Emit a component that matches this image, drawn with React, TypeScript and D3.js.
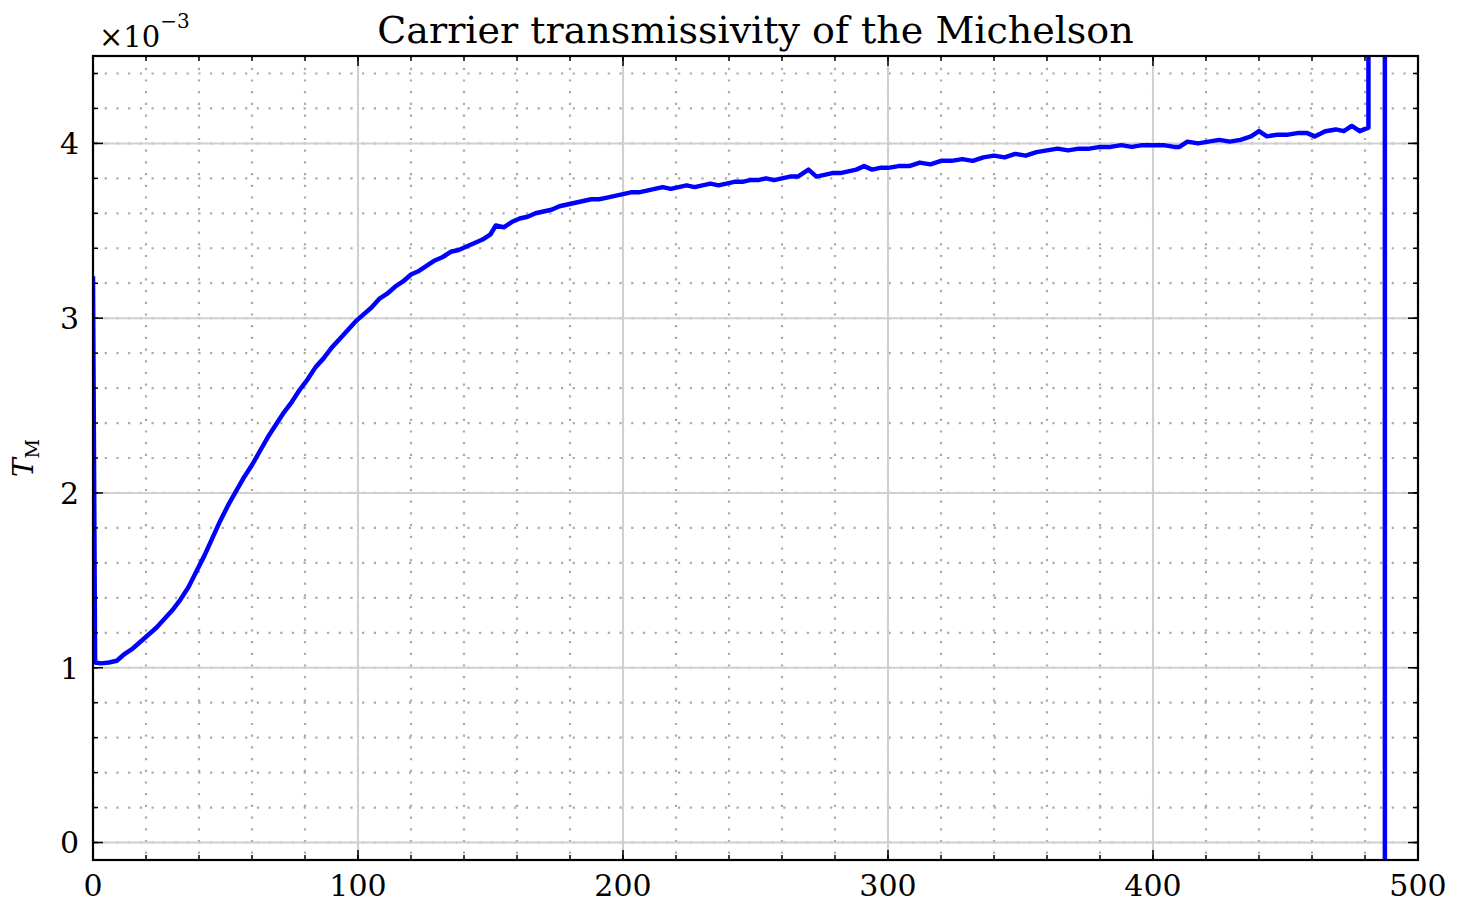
import React from "react";
import * as d3 from "d3";

// carrier transmissivity, values in units of 1e-3
const detuning: number[] = [
  0, 0.8, 3, 6, 9, 12, 15, 18, 21, 24, 27, 30, 33, 36, 39, 42, 45, 48, 51, 54,
  57, 60, 63, 66, 69, 72, 75, 78, 81, 84, 87, 90, 93, 96, 99, 102, 105, 108, 111, 114,
  117, 120, 123, 126, 129, 132, 135, 138, 141, 144, 147, 150, 152, 155, 158, 161, 164, 167, 170, 173,
  176, 179, 182, 185, 188, 191, 194, 197, 200, 203, 206, 209, 212, 215, 218, 221, 224, 227, 230, 233,
  236, 239, 242, 245, 248, 251, 254, 257, 260, 263, 266, 270, 273, 276, 279, 282, 285, 288, 291, 294,
  297, 300, 304, 308, 312, 316, 320, 324, 328, 332, 336, 340, 344, 348, 352, 356, 360, 364, 368, 372,
  376, 380, 384, 388, 392, 396, 400, 404, 408, 410, 413, 417, 421, 425, 429, 433, 437, 440, 443, 447,
  451, 455, 458, 461, 465, 469, 472, 475, 478, 481.3, 481.7, 487.4, 487.6,
];
const transmissivity: number[] = [
  3.24, 1.03, 1.025, 1.03, 1.04, 1.08, 1.11, 1.15, 1.19, 1.23, 1.28, 1.33, 1.39, 1.46, 1.55, 1.64, 1.74, 1.84, 1.93, 2.01,
  2.09, 2.16, 2.24, 2.32, 2.39, 2.46, 2.52, 2.59, 2.65, 2.72, 2.77, 2.83, 2.88, 2.93, 2.98, 3.02, 3.06, 3.11, 3.14, 3.18,
  3.21, 3.25, 3.27, 3.3, 3.33, 3.35, 3.38, 3.39, 3.41, 3.43, 3.45, 3.48, 3.53, 3.52, 3.55, 3.57, 3.58, 3.6, 3.61, 3.62,
  3.64, 3.65, 3.66, 3.67, 3.68, 3.68, 3.69, 3.7, 3.71, 3.72, 3.72, 3.73, 3.74, 3.75, 3.74, 3.75, 3.76, 3.75, 3.76, 3.77,
  3.76, 3.77, 3.78, 3.78, 3.79, 3.79, 3.8, 3.79, 3.8, 3.81, 3.81, 3.85, 3.81, 3.82, 3.83, 3.83, 3.84, 3.85, 3.87, 3.85,
  3.86, 3.86, 3.87, 3.87, 3.89, 3.88, 3.9, 3.9, 3.91, 3.9, 3.92, 3.93, 3.92, 3.94, 3.93, 3.95, 3.96, 3.97, 3.96, 3.97,
  3.97, 3.98, 3.98, 3.99, 3.98, 3.99, 3.99, 3.99, 3.98, 3.98, 4.01, 4.0, 4.01, 4.02, 4.01, 4.02, 4.04, 4.07, 4.04, 4.05,
  4.05, 4.06, 4.06, 4.04, 4.07, 4.08, 4.07, 4.1, 4.07, 4.09, 60, 60, -60,
];

const xMajor = [0, 100, 200, 300, 400, 500];
const yMajor = [0, 1, 2, 3, 4];
const xMinor = d3.range(0, 501, 20);
const yMinor = d3.range(0, 4.5, 0.2);

const W = 1461;
const H = 903;
const margin = { top: 56, right: 43, bottom: 43, left: 93 };
const font = "'DejaVu Serif', serif";

const App: React.FC = () => {
  const x = d3.scaleLinear().domain([0, 500]).range([margin.left, W - margin.right]);
  const y = d3.scaleLinear().domain([-0.1, 4.5]).range([H - margin.bottom, margin.top]);
  const [x0, x1] = x.range();
  const [y0, y1] = y.range();

  const pts = detuning.map((d, i) => [d, transmissivity[i]] as [number, number]);
  const line = d3.line<[number, number]>().x(d => x(d[0])).y(d => y(d[1]));

  return (
    <svg width={W} height={H} style={{ position: "absolute", left: 0, top: 0, background: "#fff" }}>
      <defs>
        <clipPath id="plot">
          <rect x={x0} y={y1} width={x1 - x0} height={y0 - y1} />
        </clipPath>
      </defs>

      {/* minor grid */}
      {xMinor.map(v => (
        <line key={"gx" + v} x1={x(v)} x2={x(v)} y1={y1} y2={y0}
          stroke="#aaaaaa" strokeWidth={2.2} strokeDasharray="2.2,9.5" />
      ))}
      {yMinor.map(v => (
        <line key={"gy" + v} x1={x0} x2={x1} y1={y(v)} y2={y(v)}
          stroke="#aaaaaa" strokeWidth={2.2} strokeDasharray="2.2,9.5" />
      ))}
      {/* major grid */}
      {xMajor.map(v => (
        <line key={"Gx" + v} x1={x(v)} x2={x(v)} y1={y1} y2={y0}
          stroke="#d0d0d0" strokeWidth={2} />
      ))}
      {yMajor.map(v => (
        <line key={"Gy" + v} x1={x0} x2={x1} y1={y(v)} y2={y(v)}
          stroke="#d0d0d0" strokeWidth={2} />
      ))}

      <path d={line(pts) || ""} fill="none" stroke="#0000ff" strokeWidth={4.5}
        strokeLinejoin="round" clipPath="url(#plot)" />

      {/* ticks, pointing inward on all four sides */}
      {xMinor.map(v => (
        <g key={"tx" + v} stroke="#000" strokeWidth={1.5}>
          <line x1={x(v)} x2={x(v)} y1={y0} y2={y0 - 5} />
          <line x1={x(v)} x2={x(v)} y1={y1} y2={y1 + 5} />
        </g>
      ))}
      {xMajor.map(v => (
        <g key={"Tx" + v} stroke="#000" strokeWidth={1.5}>
          <line x1={x(v)} x2={x(v)} y1={y0} y2={y0 - 10} />
          <line x1={x(v)} x2={x(v)} y1={y1} y2={y1 + 10} />
        </g>
      ))}
      {yMinor.map(v => (
        <g key={"ty" + v} stroke="#000" strokeWidth={1.5}>
          <line x1={x0} x2={x0 + 5} y1={y(v)} y2={y(v)} />
          <line x1={x1} x2={x1 - 5} y1={y(v)} y2={y(v)} />
        </g>
      ))}
      {yMajor.map(v => (
        <g key={"Ty" + v} stroke="#000" strokeWidth={1.5}>
          <line x1={x0} x2={x0 + 10} y1={y(v)} y2={y(v)} />
          <line x1={x1} x2={x1 - 10} y1={y(v)} y2={y(v)} />
        </g>
      ))}

      <rect x={x0} y={y1} width={x1 - x0} height={y0 - y1} fill="none" stroke="#000" strokeWidth={2.2} />

      {/* tick labels */}
      {xMajor.map(v => (
        <text key={"lx" + v} x={x(v)} y={y0 + 36} textAnchor="middle"
          fontFamily={font} fontSize={30} fill="#000">{v}</text>
      ))}
      {yMajor.map(v => (
        <text key={"ly" + v} x={x0 - 14} y={y(v)} dy="0.36em" textAnchor="end"
          fontFamily={font} fontSize={30} fill="#000">{v}</text>
      ))}

      <text x={99} y={47} fontFamily={font} fontSize={29} fill="#000">
        ×10<tspan dy={-19} fontSize={20}>−3</tspan>
      </text>

      <text transform={`translate(33, ${(y0 + y1) / 2}) rotate(-90)`} textAnchor="middle"
        fontFamily={font} fontSize={28} fill="#000">
        <tspan fontStyle="italic">T</tspan>
        <tspan dy={6} fontSize={19}>M</tspan>
      </text>

      <text x={(x0 + x1) / 2} y={43} textAnchor="middle" fontFamily={font} fontSize={38} fill="#000">
        Carrier transmissivity of the Michelson
      </text>
    </svg>
  );
};

export default App;
